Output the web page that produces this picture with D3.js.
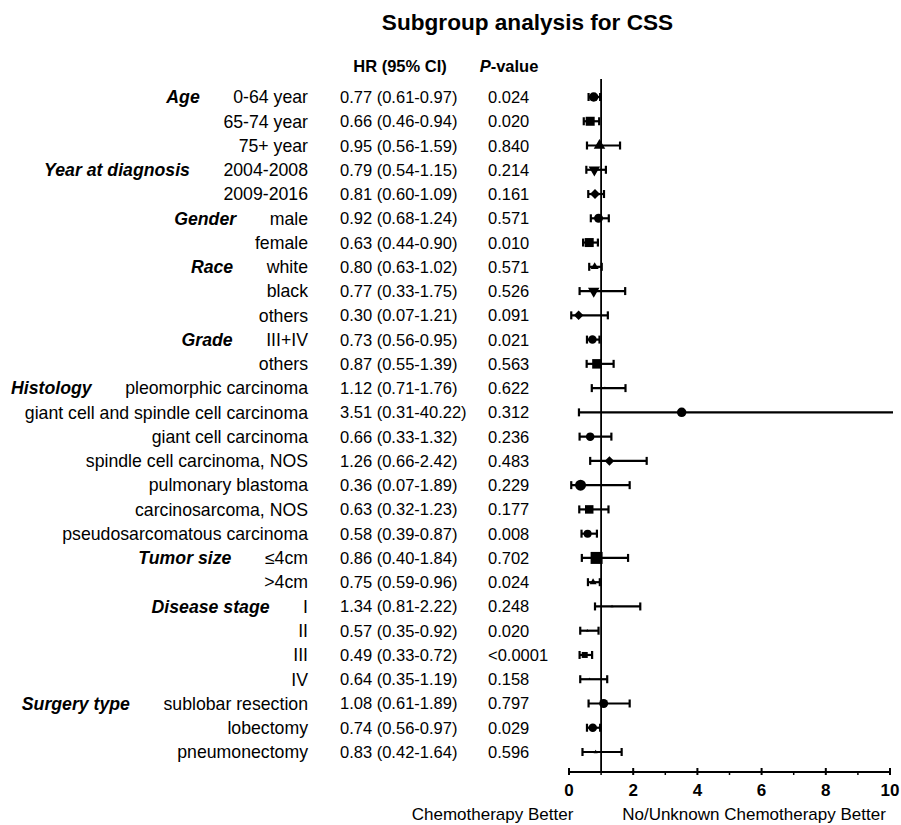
<!DOCTYPE html>
<html>
<head>
<meta charset="utf-8">
<script src="https://cdn.jsdelivr.net/npm/d3@7"></script>
<style>
  html, body { margin: 0; padding: 0; background: #fff; }
  svg { display: block; font-family: "Liberation Sans", Arial, Helvetica, sans-serif; }
</style>
</head>
<body>
<svg id="chart" width="901" height="825"></svg>
<script>
// ---------- data ----------
const groupLabels = ["Age","","","Year at diagnosis","","Gender","","Race","","","Grade","","Histology","","","","","","","Tumor size","","Disease stage","","","","Surgery type","",""];
const subgroups = ["0-64 year","65-74 year","75+ year","2004-2008","2009-2016","male","female","white","black","others","III+IV","others","pleomorphic carcinoma","giant cell and spindle cell carcinoma","giant cell carcinoma","spindle cell carcinoma, NOS","pulmonary blastoma","carcinosarcoma, NOS","pseudosarcomatous carcinoma","≤4cm",">4cm","I","II","III","IV","sublobar resection","lobectomy","pneumonectomy"];
const hr = [0.77,0.66,0.95,0.79,0.81,0.92,0.63,0.80,0.77,0.30,0.73,0.87,1.12,3.51,0.66,1.26,0.36,0.63,0.58,0.86,0.75,1.34,0.57,0.49,0.64,1.08,0.74,0.83];
const ciLow = [0.61,0.46,0.56,0.54,0.60,0.68,0.44,0.63,0.33,0.07,0.56,0.55,0.71,0.31,0.33,0.66,0.07,0.32,0.39,0.40,0.59,0.81,0.35,0.33,0.35,0.61,0.56,0.42];
const ciHigh = [0.97,0.94,1.59,1.15,1.09,1.24,0.90,1.02,1.75,1.21,0.95,1.39,1.76,40.22,1.32,2.42,1.89,1.23,0.87,1.84,0.96,2.22,0.92,0.72,1.19,1.89,0.97,1.64];
const pValues = ["0.024","0.020","0.840","0.214","0.161","0.571","0.010","0.571","0.526","0.091","0.021","0.563","0.622","0.312","0.236","0.483","0.229","0.177","0.008","0.702","0.024","0.248","0.020","<0.0001","0.158","0.797","0.029","0.596"];
const xTicks = [0,2,4,6,8,10];
const xMinorTicks = [1,3,5,7,9];

// ---------- marker styles ----------
const markerShape = ["circle","square","triUp","triDown","diamond","circle","square","triUp","triDown","diamond","circle","square","triUp","circle","circle","diamond","circle","square","circle","square","triUp","triUp","triUp","square","triUp","circle","circle","triUp"];
const markerWidth = [9.5,9,11.5,11.5,10,9,9,8,11.5,9.5,8.5,9.5,3,9.5,8.5,9.5,11,8.5,8,12,7,3,3,6,3,9,8.5,4];

// ---------- layout ----------
const svg = d3.select("#chart");
const FS = 16.5;      // numeric columns
const FSL = 17.7;     // label column
const labelRight = 308, hrLeft = 340, pLeft = 488;
const x = d3.scaleLinear().domain([0, 10]).range([569, 890]);
const y = d3.scalePoint().domain(d3.range(subgroups.length)).range([97, 752]);
const axisY = 772;

// Title
svg.append("text").attr("x", 527.5).attr("y", 30).attr("text-anchor", "middle")
  .attr("font-size", 22.6).attr("font-weight", "bold").text("Subgroup analysis for CSS");

// Headers
svg.append("text").attr("x", 400).attr("y", 72).attr("text-anchor", "middle")
  .attr("font-size", FS).attr("font-weight", "bold").text("HR (95% CI)");
const ph = svg.append("text").attr("x", 509).attr("y", 72).attr("text-anchor", "middle")
  .attr("font-size", FS).attr("font-weight", "bold");
ph.append("tspan").attr("font-style", "italic").text("P");
ph.append("tspan").text("-value");

// Rows text
const rows = svg.append("g");
subgroups.forEach((s, i) => {
  const yy = y(i) + 6;
  const sub = rows.append("text").attr("x", labelRight).attr("y", y(i) + 6.3).attr("text-anchor", "end")
    .attr("font-size", FSL).text(s);
  if (groupLabels[i]) {
    const w = sub.node().getComputedTextLength();
    rows.append("text").attr("x", labelRight - w - 33.5).attr("y", y(i) + 6.3).attr("text-anchor", "end")
      .attr("font-size", FSL).attr("font-weight", "bold").attr("font-style", "italic").text(groupLabels[i]);
  }
  rows.append("text").attr("x", hrLeft).attr("y", yy).attr("font-size", FS)
    .text(`${hr[i].toFixed(2)} (${ciLow[i].toFixed(2)}-${ciHigh[i].toFixed(2)})`);
  rows.append("text").attr("x", pLeft).attr("y", yy).attr("font-size", FS).text(pValues[i]);
});

// Reference line at HR = 1
svg.append("line").attr("x1", x(1)).attr("x2", x(1)).attr("y1", 79).attr("y2", axisY)
  .attr("stroke", "#000").attr("stroke-width", 1.8);

// Error bars
const plot = svg.append("g");
const xMax = x.range()[1] + 3;
subgroups.forEach((s, i) => {
  const yy = y(i);
  const x1 = x(ciLow[i]);
  const rawX2 = x(ciHigh[i]);
  const x2 = Math.min(rawX2, xMax);
  plot.append("line").attr("x1", x1).attr("x2", x2).attr("y1", yy).attr("y2", yy)
    .attr("stroke", "#000").attr("stroke-width", 2.2);
  plot.append("line").attr("x1", x1).attr("x2", x1).attr("y1", yy - 4).attr("y2", yy + 4)
    .attr("stroke", "#000").attr("stroke-width", 2.2);
  if (rawX2 <= xMax) {
    plot.append("line").attr("x1", x2).attr("x2", x2).attr("y1", yy - 4).attr("y2", yy + 4)
      .attr("stroke", "#000").attr("stroke-width", 2.2);
  }
  const w = markerWidth[i];
  const shape = markerShape[i];
  let type = d3.symbolCircle, area = Math.PI * (w / 2) * (w / 2), rot = 0;
  if (shape === "square") { type = d3.symbolSquare; area = w * w; }
  else if (shape === "triUp") { type = d3.symbolTriangle; area = 0.433 * w * w; }
  else if (shape === "triDown") { type = d3.symbolTriangle; area = 0.433 * w * w; rot = 180; }
  else if (shape === "diamond") { type = d3.symbolSquare; area = w * w / 2; rot = 45; }
  plot.append("path").attr("d", d3.symbol().type(type).size(area)())
    .attr("transform", `translate(${x(hr[i])},${yy}) rotate(${rot})`)
    .attr("fill", "#000");
});

// X axis
const ax = svg.append("g");
ax.append("line").attr("x1", x(0)).attr("x2", x(10)).attr("y1", axisY).attr("y2", axisY)
  .attr("stroke", "#000").attr("stroke-width", 2);
xTicks.forEach(t => {
  ax.append("line").attr("x1", x(t)).attr("x2", x(t)).attr("y1", axisY - 4).attr("y2", axisY + 3)
    .attr("stroke", "#000").attr("stroke-width", 2);
  ax.append("text").attr("x", x(t)).attr("y", 795.5).attr("text-anchor", "middle")
    .attr("font-size", 17).attr("font-weight", "bold").text(t);
});
xMinorTicks.forEach(t => {
  ax.append("line").attr("x1", x(t)).attr("x2", x(t)).attr("y1", axisY).attr("y2", axisY + 3)
    .attr("stroke", "#000").attr("stroke-width", 1.5);
});

// Bottom labels
svg.append("text").attr("x", 492.5).attr("y", 820).attr("text-anchor", "middle")
  .attr("font-size", 17).text("Chemotherapy Better");
svg.append("text").attr("x", 754).attr("y", 820).attr("text-anchor", "middle")
  .attr("font-size", 17).text("No/Unknown Chemotherapy Better");
</script>
</body>
</html>
